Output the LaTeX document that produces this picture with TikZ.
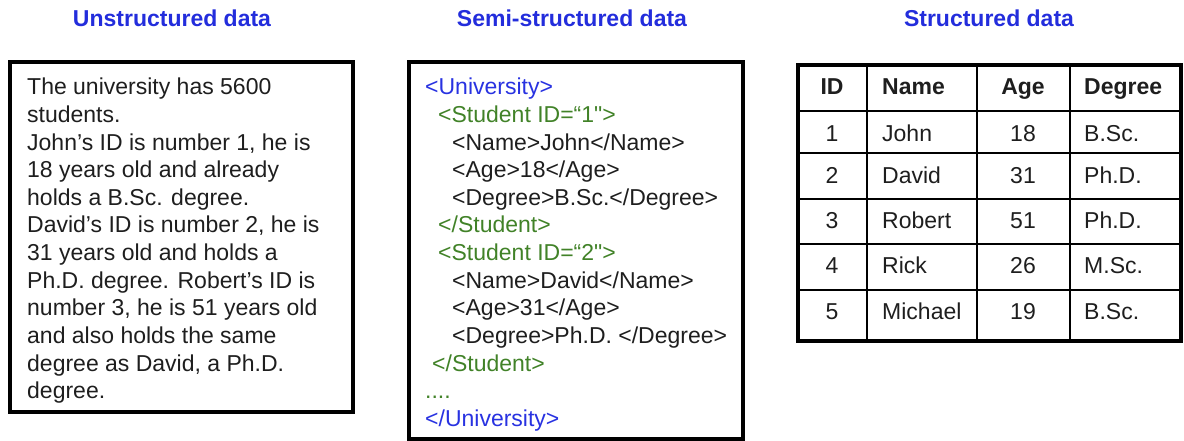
\documentclass[tikz,border=0pt]{standalone}
\usepackage{fontspec}
\setmainfont{Liberation Sans}[Ligatures=TeXOff]
\definecolor{headblue}{RGB}{35,45,220}
\definecolor{tagblue}{RGB}{40,50,225}
\definecolor{taggreen}{RGB}{65,130,40}
\definecolor{inkgray}{RGB}{30,30,30}
\tikzset{
  heading/.style={anchor=base,inner sep=0pt,text=headblue,font=\fontsize{23}{27.6}\selectfont\bfseries},
  txt/.style={anchor=base west,inner sep=0pt,text=inkgray,font=\fontsize{23}{27.6}\selectfont},
  tagu/.style={txt,text=tagblue},
  tags/.style={txt,text=taggreen},
  cellc/.style={txt,anchor=base},
  cellh/.style={txt,font=\fontsize{23}{27.6}\selectfont\bfseries},
  frame/.style={draw=black,line width=4pt},
  rule/.style={draw=black,line width=2.5pt}
}
\begin{document}
\begin{tikzpicture}[x=1pt,y=-1pt]
\useasboundingbox (0,0) rectangle (1184,441);
% headings
\node[heading] (hunstr) at (172,27) {Unstructured data};
\node[heading] (hsemi) at (572,27) {Semi-structured data};
\node[heading] (hstr) at (989,27) {Structured data};
% plain text
\draw[frame] (10,62) rectangle (353,412);
\node[txt] (u1) at (27,95) {The university has 5600};
\node[txt] (u2) at (27,122.6) {students.};
\node[txt] (u3) at (27,150.2) {John’s ID is number 1, he is};
\node[txt] (u4) at (27,177.8) {18 years old and already};
\node[txt] (u5) at (27,205.4) {holds a B.Sc. degree.};
\node[txt] (u6) at (27,233) {David’s ID is number 2, he is};
\node[txt] (u7) at (27,260.6) {31 years old and holds a};
\node[txt] (u8) at (27,288.2) {Ph.D. degree. Robert’s ID is};
\node[txt] (u9) at (27,315.8) {number 3, he is 51 years old};
\node[txt] (u10) at (27,343.4) {and also holds the same};
\node[txt] (u11) at (27,371) {degree as David, a Ph.D.};
\node[txt] (u12) at (27,398.6) {degree.};
% xml
\draw[frame] (409,62) rectangle (743,439);
\node[tagu] (x1) at (425,95) {<University>};
\node[tags] (x2) at (438,122.6) {<Student ID=“1">};
\node[txt] (x3) at (452,150.2) {<Name>John</Name>};
\node[txt] (x4) at (452,177.8) {<Age>18</Age>};
\node[txt] (x5) at (452,205.4) {<Degree>B.Sc.</Degree>};
\node[tags] (x6) at (438,233) {</Student>};
\node[tags] (x7) at (438,260.6) {<Student ID=“2">};
\node[txt] (x8) at (452,288.2) {<Name>David</Name>};
\node[txt] (x9) at (452,315.8) {<Age>31</Age>};
\node[txt] (x10) at (452,343.4) {<Degree>Ph.D. </Degree>};
\node[tags] (x11) at (432,371) {</Student>};
\node[tags] (x12) at (425,398.6) {....};
\node[tagu] (x13) at (425,426.2) {</University>};
% table
\draw[frame] (798,65) rectangle (1181,341);
\draw[rule] (798,111) -- (1181,111);
\draw[rule] (798,153) -- (1181,153);
\draw[rule] (798,199) -- (1181,199);
\draw[rule] (798,244) -- (1181,244);
\draw[rule] (798,290) -- (1181,290);
\draw[rule] (867,65) -- (867,341);
\draw[rule] (977,65) -- (977,341);
\draw[rule] (1070,65) -- (1070,341);
\node[cellh,anchor=base] (tid) at (832,95) {ID};
\node[cellh] (tname) at (882,95) {Name};
\node[cellh,anchor=base] (tage) at (1023,95) {Age};
\node[cellh] (tdeg) at (1084,95) {Degree};
\node[cellc] (id1) at (832,142) {1};
\node[txt] (nm1) at (882,142) {John};
\node[cellc] (ag1) at (1023,142) {18};
\node[txt] (dg1) at (1084,142) {B.Sc.};
\node[cellc] (id2) at (832,183) {2};
\node[txt] (nm2) at (882,183) {David};
\node[cellc] (ag2) at (1023,183) {31};
\node[txt] (dg2) at (1084,183) {Ph.D.};
\node[cellc] (id3) at (832,229) {3};
\node[txt] (nm3) at (882,229) {Robert};
\node[cellc] (ag3) at (1023,229) {51};
\node[txt] (dg3) at (1084,229) {Ph.D.};
\node[cellc] (id4) at (832,273) {4};
\node[txt] (nm4) at (882,273) {Rick};
\node[cellc] (ag4) at (1023,273) {26};
\node[txt] (dg4) at (1084,273) {M.Sc.};
\node[cellc] (id5) at (832,319) {5};
\node[txt] (nm5) at (882,319) {Michael};
\node[cellc] (ag5) at (1023,319) {19};
\node[txt] (dg5) at (1084,319) {B.Sc.};
\end{tikzpicture}
\end{document}
